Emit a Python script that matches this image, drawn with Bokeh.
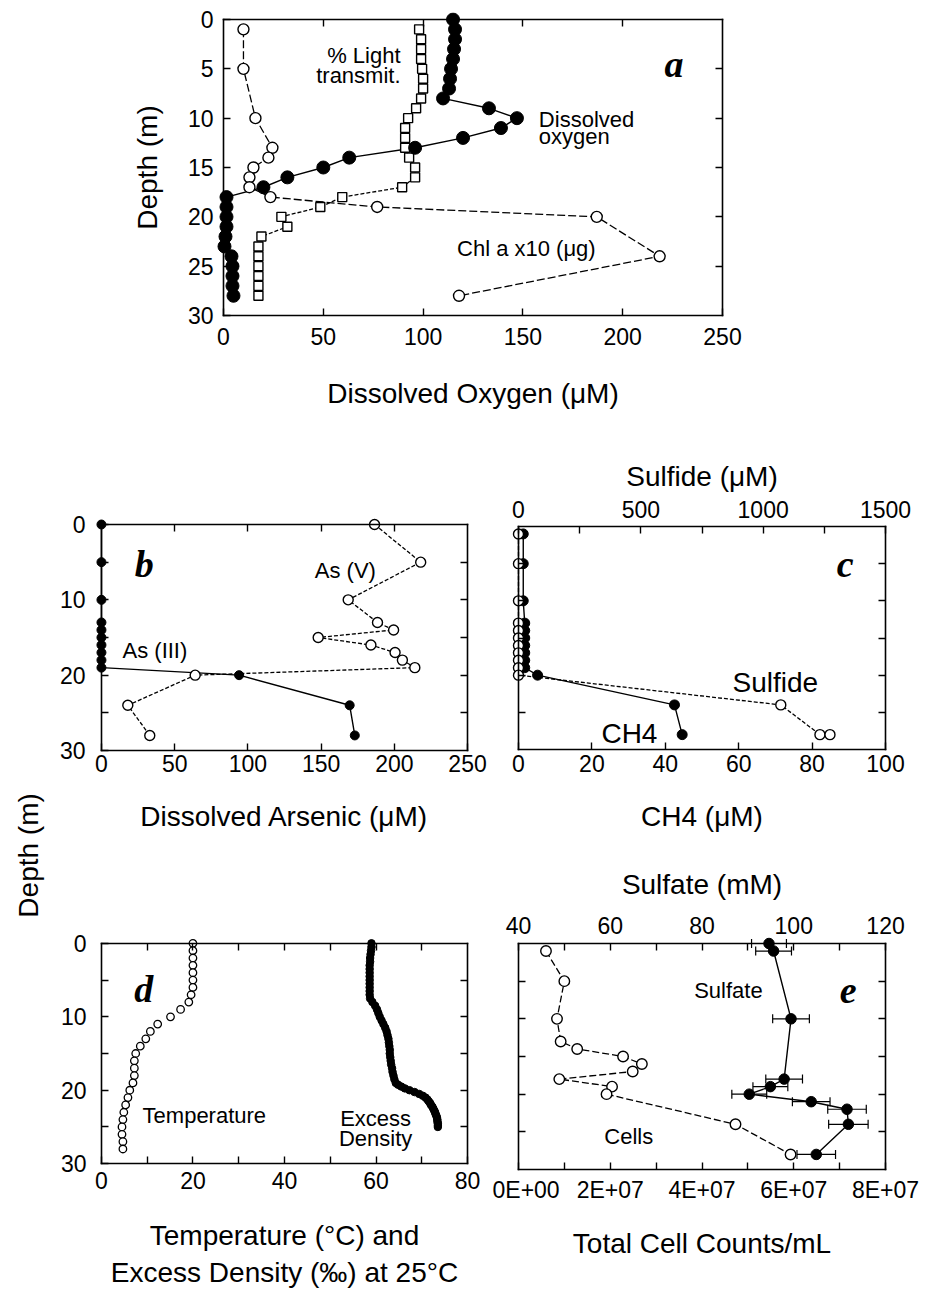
import math
from bokeh.plotting import figure
from bokeh.layouts import column, row
from bokeh.models import (Range1d, LinearAxis, FixedTicker, Label, Whisker,
                          ColumnDataSource, TeeHead, CustomJSTickFormatter)
from bokeh.embed import file_html
from bokeh.resources import INLINE

SANS = "Liberation Sans"
SERIF = "Liberation Serif"
PAD = 7  # px of free space around each box so edge markers are not cut

# ---------------- data ----------------
# (a) oxygen, chlorophyll and light profiles
a_do_depth = [0, 1, 2, 3, 4, 5, 6, 7, 8, 9, 10, 11, 12, 13, 14, 15, 16, 17,
              18, 19, 20, 21, 22, 23, 24, 25, 26, 27, 28]
a_do = [115, 116, 116, 115.5, 115, 114, 113.5, 113, 110, 133, 147, 139, 120,
        96, 63, 50, 32, 20, 1.5, 1.5, 1.5, 1.5, 1, 0.5, 4, 4.5, 4.5, 4.5, 5]
a_chl_depth = [1, 5, 10, 13, 14, 15, 16, 17, 18, 19, 20, 24, 28]
a_chl = [10, 10, 16, 24.5, 22.5, 15, 13, 13, 23.5, 77, 187, 218.5, 118]
a_light_depth = [1, 2, 3, 4, 5, 6, 7, 8, 9, 10, 11, 12, 13, 14, 15, 16, 17,
                 18, 19, 20, 21, 22, 23, 24, 25, 26, 27, 28]
a_light = [98, 99, 99, 99, 99.5, 100, 100, 99, 96.5, 92.5, 91, 91, 91, 93, 96,
           96, 89.5, 59.5, 48.5, 29, 32, 19, 17.5, 17.5, 17.5, 17.5, 17.5, 17.5]

# (b) arsenic speciation
b_depth = [0, 5, 10, 13, 14, 15, 16, 17, 18, 19, 20, 24, 28]
b_as5 = [186.5, 218, 168.5, 188.5, 199.5, 148, 184, 200.5, 205.5, 214, 64, 18, 33]
b_as3 = [0, 0, 0, 0, 0, 0, 0, 0, 0, 0, 94, 169.5, 173]

# (c) methane and sulfide
c_ch4_depth = [1, 5, 10, 13, 14, 15, 16, 17, 18, 19, 20, 24, 28]
c_ch4 = [1.3, 1.3, 1.3, 1.7, 1.7, 1.7, 1.7, 1.7, 1.7, 1.7, 5.2, 42.5, 44.6]
c_sulfide_depth = [1, 5, 10, 13, 14, 15, 16, 17, 18, 19, 20, 24, 28, 28]
c_sulfide = [0, 0, 0, 0, 0, 0, 0, 0, 0, 0, 0, 1072, 1232, 1273]

# (d) temperature and excess density
d_temp_depth = [0, 1, 2, 3, 4, 5, 6, 7, 8, 9, 10, 11, 12, 13, 14, 15, 16, 17,
                18, 19, 20, 21, 22, 23, 24, 25, 26, 27, 28]
d_temp = [20.0, 20.0, 20.0, 20.0, 20.0, 20.0, 20.0, 19.6, 19.1, 17.3, 15.1,
          12.3, 10.7, 9.7, 8.5, 7.5, 7.2, 7.2, 7.2, 6.9, 6.2, 5.8, 5.3, 4.9,
          4.7, 4.5, 4.5, 4.7, 4.7]
d_dens_depth = [0, 0.5, 1, 1.5, 2, 2.5, 3, 3.5, 4, 4.5, 5, 5.5, 6, 6.5, 7,
                7.5, 8, 8.5, 9, 9.5, 10, 10.5, 11, 11.5, 12, 12.5, 13, 13.5,
                14, 14.5, 15, 15.5, 16, 16.5, 17, 17.5, 18, 18.5, 19, 19.25,
                19.5, 19.75, 20, 20.25, 20.5, 20.75, 21, 21.25, 21.5, 21.75,
                22, 22.25, 22.5, 22.75, 23, 23.25, 23.5, 23.75, 24, 24.25,
                24.5, 24.75, 25]
d_dens = [59.0, 59.0, 58.9, 58.8, 58.7, 58.7, 58.6, 58.6, 58.6, 58.6, 58.6,
          58.6, 58.6, 58.6, 58.6, 58.7, 59.2, 59.8, 60.2, 60.5, 60.8, 61.2,
          61.6, 62.0, 62.3, 62.5, 62.7, 62.8, 62.9, 63.0, 63.0, 63.1, 63.2,
          63.3, 63.5, 63.6, 63.8, 64.0, 64.3, 64.8, 65.5, 66.3, 67.3, 68.4,
          69.4, 70.2, 70.8, 71.2, 71.5, 71.8, 72.0, 72.3, 72.5, 72.7, 72.9,
          73.0, 73.2, 73.3, 73.4, 73.4, 73.5, 73.5, 73.5]

# (e) cell counts and sulfate
e_cells_depth = [1, 5, 10, 13, 14, 15, 16, 17, 18, 19, 20, 24, 28]
e_cells = [6.0e6, 1.0e7, 8.4e6, 9.2e6, 1.28e7, 2.28e7, 2.69e7, 2.49e7, 8.9e6,
           2.04e7, 1.92e7, 4.73e7, 5.93e7]
e_sulfate_depth = [0, 1, 10, 18, 19, 20, 21, 22, 24, 28]
e_sulfate = [94.6, 95.6, 99.4, 97.9, 94.9, 90.3, 103.8, 111.6, 111.9, 104.9]
e_sulfate_err = [3.8, 3.9, 4.0, 4.0, 3.8, 3.8, 4.1, 4.2, 4.3, 4.2]

depth_major_a = [0, 5, 10, 15, 20, 25, 30]
depth_major = [0, 10, 20, 30]
depth_minor = [5, 15, 25]
depth_inner = [5, 10, 15, 20, 25]
DEPTH = (0, 30)

# x extent of each panel's box, keyed by figure id
SPANS = {}


# ---------------- helpers ----------------
def panel(width, height, xspan, left, right, top, bottom, extra=None):
    """Box of (width-left-right) x (height-top-bottom) px; the plotting frame
    is PAD px larger on every side and the box itself is drawn by axes
    pinned to the data edges."""
    fw = width - left - right
    fh = height - top - bottom

    def padded(lo, hi, px):
        m = (hi - lo) * PAD / px
        return lo - m, hi + m

    x0, x1 = padded(*xspan, fw)
    y0, y1 = padded(*DEPTH, fh)
    p = figure(width=width, height=height, x_range=Range1d(x0, x1),
               y_range=Range1d(y1, y0),
               x_axis_location=None, y_axis_location=None,
               output_backend="svg", toolbar_location=None,
               min_border_left=left - PAD, min_border_right=right - PAD,
               min_border_top=top - PAD, min_border_bottom=bottom - PAD)
    p.grid.visible = False
    p.outline_line_color = None
    p.background_fill_color = "white"
    p.border_fill_color = "white"
    SPANS[p.id] = xspan
    if extra:
        p.extra_x_ranges = {k: Range1d(*padded(*v, fw)) for k, v in extra.items()}
    return p


def add_axis(p, side, major=(), minor=(), label=None, range_name=None,
             standoff=8, label_standoff=10, formatter=None, span=None):
    kw = {}
    if range_name:
        kw["x_range_name"] = range_name
    xspan = SPANS[p.id]
    if side in ("left", "right"):
        loc = xspan[0] if side == "left" else xspan[1]
        bounds = DEPTH
    else:
        loc = DEPTH[1] if side == "below" else DEPTH[0]
        bounds = span if span is not None else xspan

    # box edge with inward ticks, pinned to the data edge
    edge = LinearAxis(ticker=FixedTicker(ticks=[], minor_ticks=list(major) + list(minor)),
                      fixed_location=loc, bounds=bounds, **kw)
    edge.axis_line_color = "black"
    edge.axis_line_width = 1.6
    edge.axis_line_cap = "square"
    edge.major_tick_in = 0
    edge.major_tick_out = 0
    edge.minor_tick_in = 7
    edge.minor_tick_out = 0
    edge.minor_tick_line_width = 1.4
    edge.minor_tick_line_color = "black"
    edge.major_label_standoff = 0
    edge.axis_label_standoff = 0
    p.add_layout(edge, side)

    if not major and not label:
        return
    # tick labels and title, laid out in the side panel
    if formatter is not None:
        kw["formatter"] = formatter
    ax = LinearAxis(ticker=FixedTicker(ticks=list(major)), axis_label=label, **kw)
    ax.axis_line_color = None
    ax.major_tick_line_color = None
    ax.minor_tick_line_color = None
    ax.major_tick_in = 0
    ax.major_tick_out = 0
    ax.minor_tick_in = 0
    ax.minor_tick_out = 0
    ax.major_label_text_font = SANS
    ax.major_label_text_font_size = "23px"
    ax.major_label_text_color = "black"
    ax.major_label_standoff = standoff - PAD
    ax.axis_label_text_font = SANS
    ax.axis_label_text_font_size = "28px"
    ax.axis_label_text_font_style = "normal"
    ax.axis_label_text_color = "black"
    ax.axis_label_standoff = label_standoff if label else 0
    p.add_layout(ax, side)


def note(p, x, y, text, size="22px", align="left", font=SANS, style="normal",
         baseline="alphabetic", angle=0.0):
    p.add_layout(Label(x=x, y=y, text=text, text_font=font,
                       text_font_size=size, text_font_style=style,
                       text_align=align, text_baseline=baseline,
                       text_color="black", angle=angle))


def letter(p, x, y, text, align="left"):
    note(p, x, y, text, size="38px", align=align, font=SERIF,
         style="bold italic")


# ---------------- panel a ----------------
pa = panel(930, 425, (0, 250), 223, 208, 19, 110)
add_axis(pa, "left", depth_major_a, label="Depth (m)", standoff=10, label_standoff=22)
add_axis(pa, "below", [0, 50, 100, 150, 200, 250], label="Dissolved Oxygen (μM)",
         standoff=12, label_standoff=30)
add_axis(pa, "above", minor=[50, 100, 150, 200])
add_axis(pa, "right", minor=depth_inner)
pa.line(a_chl, a_chl_depth, line_color="black", line_width=1.3, line_dash="8 3")
pa.line(a_light, a_light_depth, line_color="black", line_width=1.3, line_dash="4 2")
pa.line(a_do, a_do_depth, line_color="black", line_width=1.4)
pa.scatter(a_chl, a_chl_depth, marker="circle", size=11, fill_color="white",
           line_color="black", line_width=1.4)
pa.scatter(a_light, a_light_depth, marker="square", size=9, fill_color="white",
           line_color="black", line_width=1.4)
pa.scatter(a_do, a_do_depth, marker="circle", size=13, fill_color="black",
           line_color="black")
note(pa, 88.7, 3.65, "% Light", align="right")
note(pa, 88.7, 5.68, "transmit.", align="right")
note(pa, 158, 10.17, "Dissolved")
note(pa, 158, 11.9, "oxygen")
note(pa, 117, 23.2, "Chl a x10 (μg)")
letter(pa, 230.5, 4.5, "a", align="right")

# ---------------- panel b ----------------
pb = panel(436, 503, (0, 250), 42, 25, 99, 178)
add_axis(pb, "left", depth_major, depth_minor, standoff=16)
add_axis(pb, "below", [0, 50, 100, 150, 200, 250], label="Dissolved Arsenic (μM)",
         standoff=4, label_standoff=26)
add_axis(pb, "above", minor=[50, 100, 150, 200])
add_axis(pb, "right", minor=depth_inner)
pb.line(b_as5, b_depth, line_color="black", line_width=1.3, line_dash="4 2")
pb.line(b_as3, b_depth, line_color="black", line_width=1.4)
pb.scatter(b_as5, b_depth, marker="circle", size=10, fill_color="white",
           line_color="black", line_width=1.4)
pb.scatter(b_as3, b_depth, marker="circle", size=9, fill_color="black",
           line_color="black")
note(pb, 145.7, 6.1, "As (V)")
note(pb, 14.4, 16.7, "As (III)")
letter(pb, 22.8, 5.2, "b")

# ---------------- panel c ----------------
pc = panel(438, 425, (0, 100), 25, 45, 101, 101, extra={"sulfide": (0, 1500)})
add_axis(pc, "left", minor=depth_inner)
add_axis(pc, "right", minor=depth_inner)
add_axis(pc, "below", [0, 20, 40, 60, 80, 100], label="CH4 (μM)",
         standoff=5, label_standoff=26)
add_axis(pc, "above", [0, 500, 1000, 1500], [250, 750, 1250],
         label="Sulfide (μM)", range_name="sulfide", standoff=9, label_standoff=6,
         span=(0, 1500))
pc.line(c_sulfide, c_sulfide_depth, x_range_name="sulfide", line_color="black",
        line_width=1.3, line_dash="4 2")
pc.line(c_ch4, c_ch4_depth, line_color="black", line_width=1.4)
pc.scatter(c_ch4, c_ch4_depth, marker="circle", size=10, fill_color="black",
           line_color="black")
pc.scatter(c_sulfide, c_sulfide_depth, x_range_name="sulfide", marker="circle",
           size=10, fill_color="white", line_color="black", line_width=1.4)
note(pc, 58.3, 20.95, "Sulfide", size="28px")
note(pc, 22.6, 27.9, "CH4", size="28px")
letter(pc, 91.3, 5.0, "c", align="right")

# ---------------- panel d ----------------
pd_ = panel(436, 362, (0, 80), 42, 22, 15, 121)
add_axis(pd_, "left", depth_major, depth_minor, standoff=15)
add_axis(pd_, "below", [0, 20, 40, 60, 80], [10, 30, 50, 70],
         label="Temperature (°C) and\nExcess Density (‰) at 25°C",
         standoff=8, label_standoff=28)
add_axis(pd_, "above", minor=[10, 20, 30, 40, 50, 60, 70])
add_axis(pd_, "right", minor=depth_inner)
pd_.scatter(d_dens, d_dens_depth, marker="circle", size=7.5, fill_color="black",
            line_color="black")
pd_.scatter(d_temp, d_temp_depth, marker="circle", size=7.5, fill_color="white",
            line_color="black", line_width=1.3)
note(pd_, 9.0, 23.5, "Temperature")
note(pd_, 59.9, 23.9, "Excess", align="center")
note(pd_, 59.9, 26.6, "Density", align="center")
letter(pd_, 7.2, 6.2, "d")

# ---------------- panel e ----------------
pe = panel(438, 440, (0, 8e7), 26, 42, 93, 121, extra={"sulfate": (40, 120)})
add_axis(pe, "left", minor=depth_inner)
add_axis(pe, "right", minor=depth_inner)
cell_fmt = CustomJSTickFormatter(
    code="return tick == 0 ? '0E+00' : (tick / 1e7).toFixed(0) + 'E+07';")
add_axis(pe, "below", [0, 2e7, 4e7, 6e7, 8e7], [1e7, 3e7, 5e7, 7e7],
         label="Total Cell Counts/mL", standoff=7, label_standoff=22,
         formatter=cell_fmt)
add_axis(pe, "above", [40, 60, 80, 100, 120], [50, 70, 90, 110],
         label="Sulfate (mM)", range_name="sulfate", standoff=10, label_standoff=14,
         span=(40, 120))
err_src = ColumnDataSource(dict(
    base=e_sulfate_depth,
    lower=[v - e for v, e in zip(e_sulfate, e_sulfate_err)],
    upper=[v + e for v, e in zip(e_sulfate, e_sulfate_err)]))
pe.add_layout(Whisker(source=err_src, base="base", lower="lower", upper="upper",
                      dimension="width", x_range_name="sulfate",
                      line_color="black", line_width=1.2,
                      upper_head=TeeHead(size=9, line_color="black", line_width=1.2),
                      lower_head=TeeHead(size=9, line_color="black", line_width=1.2)))
pe.line(e_cells, e_cells_depth, line_color="black", line_width=1.3, line_dash="7 3")
pe.line(e_sulfate, e_sulfate_depth, x_range_name="sulfate", line_color="black",
        line_width=1.4)
pe.scatter(e_cells, e_cells_depth, marker="circle", size=10.5, fill_color="white",
           line_color="black", line_width=1.4)
pe.scatter(e_sulfate, e_sulfate_depth, x_range_name="sulfate", marker="circle",
           size=10.5, fill_color="black", line_color="black")
note(pe, 3.83e7, 6.2, "Sulfate")
note(pe, 1.87e7, 25.6, "Cells")
letter(pe, 7.0e7, 6.2, "e")

# ---------------- shared depth title for panels b-e ----------------
strip = figure(width=56, height=865, x_range=Range1d(0, 1), y_range=Range1d(0, 1),
               x_axis_location=None, y_axis_location=None,
               output_backend="svg", toolbar_location=None,
               min_border_left=0, min_border_right=0,
               min_border_top=0, min_border_bottom=0)
strip.grid.visible = False
strip.outline_line_color = None
note(strip, 0.5, 0.503, "Depth (m)", size="28px", align="center",
     baseline="middle", angle=math.pi / 2)

layout = column(pa, row(strip, column(pb, pd_), column(pc, pe)))
open("out.html", "w").write(file_html(layout, INLINE))
